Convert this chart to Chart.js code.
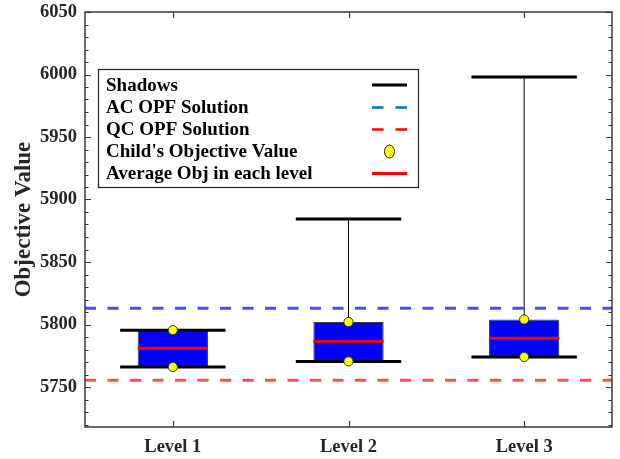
<!DOCTYPE html>
<html>
<head>
<meta charset="utf-8">
<script src="https://cdn.jsdelivr.net/npm/chart.js@4"></script>
<style>
  html, body { margin: 0; padding: 0; background: #fff; }
  #wrap { width: 620px; height: 459px; }
</style>
</head>
<body>
<div id="wrap"><canvas id="c" width="620" height="459"></canvas></div>
<script>
// Objective values per tree level
const categories = ['Level 1', 'Level 2', 'Level 3'];
const shadowHigh = [5795.5, 5884.5, 5998];
const shadowLow = [5766, 5770.5, 5774];
const boxHigh = [5795.5, 5802, 5804];
const boxLow = [5766, 5770.5, 5774];
const childHigh = [5795.5, 5802, 5804];
const childLow = [5766, 5770.5, 5774];
const levelAverage = [5781, 5786.5, 5789];
const acOpfValue = 5813;
const qcOpfValue = 5755.5;
const yTickLabels = [5750, 5800, 5850, 5900, 5950, 6000, 6050];
const legendLabels = ['Shadows', 'AC OPF Solution', 'QC OPF Solution', "Child's Objective Value", 'Average Obj in each level'];

const SERIF = "'Liberation Serif', 'Times New Roman', serif";
const Y_MIN = 5718, Y_MAX = 6050;

const boxPlot = {
  id: 'boxPlot',
  beforeDatasetsDraw(chart) {
    const { ctx, chartArea: a, scales: { y } } = chart;
    ctx.save();
    ctx.lineWidth = 3;
    ctx.setLineDash([11, 11.5]);
    [[acOpfValue, '#4a4aff'], [qcOpfValue, '#ff5050']].forEach(([v, c]) => {
      const py = y.getPixelForValue(v);
      ctx.strokeStyle = c;
      ctx.beginPath();
      ctx.moveTo(a.left, py);
      ctx.lineTo(a.right, py);
      ctx.stroke();
    });
    ctx.restore();
  },
  afterDatasetDraw(chart, args) {
    if (args.index !== 0) return;
    const { ctx, scales: { x, y } } = chart;
    const meta = chart.getDatasetMeta(0);
    ctx.save();
    meta.data.forEach((bar, i) => {
      const cx = x.getPixelForValue(i);
      const half = bar.width / 2;
      const wHalf = half * 1.5;
      const yTop = y.getPixelForValue(shadowHigh[i]);
      const yLow = y.getPixelForValue(shadowLow[i]);
      const yBoxTop = y.getPixelForValue(boxHigh[i]);
      // stem between box and upper shadow
      ctx.strokeStyle = '#000';
      ctx.lineWidth = 1;
      ctx.beginPath();
      ctx.moveTo(cx, yTop);
      ctx.lineTo(cx, yBoxTop);
      ctx.stroke();
      // shadows
      ctx.lineWidth = 3;
      [yTop, yLow].forEach(py => {
        ctx.beginPath();
        ctx.moveTo(cx - wHalf, py);
        ctx.lineTo(cx + wHalf, py);
        ctx.stroke();
      });
      // level average
      const ya = y.getPixelForValue(levelAverage[i]);
      ctx.strokeStyle = '#ff0000';
      ctx.lineWidth = 2.8;
      ctx.beginPath();
      ctx.moveTo(cx - half, ya);
      ctx.lineTo(cx + half, ya);
      ctx.stroke();
    });
    ctx.restore();
  },
  afterDraw(chart) {
    const { ctx, chartArea: a, scales: { x, y } } = chart;
    ctx.save();
    // frame
    ctx.strokeStyle = '#3a3a3a';
    ctx.lineWidth = 1.5;
    ctx.strokeRect(a.left, a.top, a.right - a.left, a.bottom - a.top);
    // inward ticks
    ctx.lineWidth = 1.2;
    ctx.beginPath();
    for (let v = Math.ceil(Y_MIN / 10) * 10; v <= Y_MAX; v += 10) {
      const py = Math.round(y.getPixelForValue(v)) + 0.5;
      const len = v % 50 === 0 ? 6 : 3.5;
      ctx.moveTo(a.left, py); ctx.lineTo(a.left + len, py);
      ctx.moveTo(a.right, py); ctx.lineTo(a.right - len, py);
    }
    categories.forEach((_, i) => {
      const px = Math.round(x.getPixelForValue(i)) + 0.5;
      ctx.moveTo(px, a.bottom); ctx.lineTo(px, a.bottom - 6);
      ctx.moveTo(px, a.top); ctx.lineTo(px, a.top + 6);
    });
    ctx.stroke();

    // legend
    const lx = 98.5, ly = 69.5, lw = 320, lh = 118;
    ctx.fillStyle = '#fff';
    ctx.fillRect(lx, ly, lw, lh);
    ctx.strokeStyle = '#222';
    ctx.lineWidth = 1.2;
    ctx.strokeRect(lx, ly, lw, lh);
    const rows = [85, 107.5, 129.5, 151.5, 173.5];
    ctx.font = 'bold 19px ' + SERIF;
    ctx.fillStyle = '#000';
    ctx.textBaseline = 'middle';
    ctx.textAlign = 'left';
    legendLabels.forEach((t, i) => ctx.fillText(t, 106, rows[i] + 1));
    const s0 = 372, s1 = 407;
    // shadows
    ctx.strokeStyle = '#000'; ctx.lineWidth = 3;
    ctx.beginPath(); ctx.moveTo(s0, rows[0]); ctx.lineTo(s1, rows[0]); ctx.stroke();
    // AC / QC dashes
    ctx.lineWidth = 2.6;
    [[rows[1], '#0072bd'], [rows[2], '#ff0000']].forEach(([ry, c]) => {
      ctx.strokeStyle = c;
      ctx.beginPath();
      ctx.moveTo(s0, ry); ctx.lineTo(s0 + 11.5, ry);
      ctx.moveTo(s1 - 11.5, ry); ctx.lineTo(s1, ry);
      ctx.stroke();
    });
    // child marker
    ctx.fillStyle = '#ffff00';
    ctx.strokeStyle = '#222';
    ctx.lineWidth = 1;
    ctx.beginPath();
    ctx.ellipse(389.5, rows[3], 5, 6.5, 0, 0, Math.PI * 2);
    ctx.fill(); ctx.stroke();
    // average
    ctx.strokeStyle = '#ff0000'; ctx.lineWidth = 3;
    ctx.beginPath(); ctx.moveTo(s0, rows[4]); ctx.lineTo(s1, rows[4]); ctx.stroke();
    ctx.restore();
  }
};

const pointStyle = {
  type: 'line',
  showLine: false,
  pointRadius: 4.6,
  pointHoverRadius: 4.6,
  pointBackgroundColor: '#ffff00',
  pointBorderColor: '#333',
  pointBorderWidth: 1,
  order: 1
};

new Chart(document.getElementById('c'), {
  type: 'bar',
  data: {
    labels: categories,
    datasets: [
      {
        label: 'Box',
        data: categories.map((_, i) => [boxLow[i], boxHigh[i]]),
        backgroundColor: '#0000ff',
        borderColor: '#3a3a3a',
        borderWidth: 1,
        borderSkipped: false,
        barPercentage: 0.4,
        categoryPercentage: 1.0,
        order: 2
      },
      Object.assign({ label: 'Child high', data: childHigh }, pointStyle),
      Object.assign({ label: 'Child low', data: childLow }, pointStyle)
    ]
  },
  options: {
    responsive: false,
    animation: false,
    events: [],
    layout: { padding: { top: 12, right: 8, left: 0, bottom: 0 } },
    plugins: { legend: { display: false }, tooltip: { enabled: false } },
    scales: {
      x: {
        offset: true,
        grid: { display: false, drawTicks: false },
        border: { display: false },
        ticks: {
          padding: 9,
          color: '#262626',
          font: { family: SERIF, size: 18.5, weight: 'bold' }
        },
        afterFit(s) { s.height = 32; s.paddingLeft = 0; s.paddingRight = 0; }
      },
      y: {
        min: Y_MIN,
        max: Y_MAX,
        grid: { display: false, drawTicks: false },
        border: { display: false },
        afterBuildTicks(s) { s.ticks = yTickLabels.map(v => ({ value: v })); },
        ticks: {
          autoSkip: false,
          padding: 8,
          color: '#262626',
          font: { family: SERIF, size: 18.5, weight: 'bold' },
          callback: v => String(v)
        },
        title: {
          display: true,
          text: 'Objective Value',
          color: '#262626',
          padding: { top: 10, bottom: 0 },
          font: { family: SERIF, size: 23, weight: 'bold' }
        },
        afterFit(s) { s.width = 85; s.paddingTop = 0; s.paddingBottom = 0; }
      }
    }
  },
  plugins: [boxPlot]
});
</script>
</body>
</html>
